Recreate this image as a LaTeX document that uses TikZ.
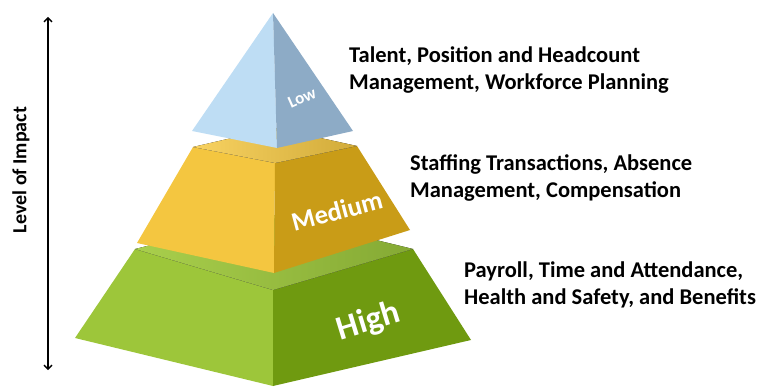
\documentclass[tikz,border=0pt]{standalone}
\usepackage{fontspec}
\setmainfont{Carlito}
\usetikzlibrary{arrows.meta}

\definecolor{lowL}{HTML}{BEDDF4}
\definecolor{lowR}{HTML}{8DABC6}
\definecolor{medL}{HTML}{F4C640}
\definecolor{medR}{HTML}{C99C17}
\definecolor{medT}{HTML}{F8D261}
\definecolor{highL}{HTML}{9DC63A}
\definecolor{highR}{HTML}{6F9A10}
\definecolor{highT}{HTML}{A9CF4C}

\begin{document}
\begin{tikzpicture}[x=1pt,y=-1pt,
    desc/.style={anchor=west, align=left, inner sep=0pt, font=\fontsize{22.5}{27}\selectfont\bfseries},
    lvl/.style={text=white, inner sep=0pt}]
 \useasboundingbox (0,0) rectangle (758,390);

    %Axis
    \coordinate (axtop) at (48,17);
    \coordinate (axbot) at (48,370);
    \draw[{Straight Barb[length=4pt,width=8pt]}-{Straight Barb[length=4pt,width=8pt]}, line width=1.3pt] (axtop) -- (axbot);
    \node[rotate=90, font=\fontsize{20}{24}\selectfont\bfseries] (axlabel) at (21,170) {Level of Impact};

    % High
    \coordinate (hTL) at (135,249);
    \coordinate (hTB) at (273,215);
    \coordinate (hTR) at (413,249);
    \coordinate (hTF) at (273,290);
    \coordinate (hBL) at (75,338);
    \coordinate (hBR) at (471,340);
    \coordinate (hBF) at (273,386);
    \fill[highL] (hTL) -- (hTF) -- (hBF) -- (hBL) -- cycle;
    \fill[highR] (hTF) -- (hTR) -- (hBR) -- (hBF) -- cycle;
    \fill[left color=highT, right color=highR!85!white] (hTL) -- (hTB) -- (hTR) -- (hTF) -- cycle;

    % Medium
    \coordinate (mTL) at (193,147);
    \coordinate (mTB) at (275,128);
    \coordinate (mTR) at (357,146);
    \coordinate (mTF) at (275,163);
    \coordinate (mBL) at (137,243);
    \coordinate (mBR) at (410,230);
    \coordinate (mBF) at (274,273);
    \fill[medL] (mTL) -- (mTF) -- (mBF) -- (mBL) -- cycle;
    \fill[medR] (mTF) -- (mTR) -- (mBR) -- (mBF) -- cycle;
    \fill[left color=medT, right color=medR!85!white] (mTL) -- (mTB) -- (mTR) -- (mTF) -- cycle;

    % Low
    \coordinate (apex) at (273,13);
    \coordinate (lBL) at (192,131);
    \coordinate (lBR) at (353,131);
    \coordinate (lBF) at (277,148);
    \fill[lowL] (apex) -- (lBF) -- (lBL) -- cycle;
    \fill[lowR] (apex) -- (lBR) -- (lBF) -- cycle;

    % labels on the faces
    \node[lvl, rotate=24, font=\fontsize{17}{20}\selectfont\bfseries] (low) at (302,98) {Low};
    \node[lvl, rotate=15, font=\fontsize{26.5}{30}\selectfont\bfseries] (med) at (337,211) {Medium};
    \node[lvl, rotate=17, font=\fontsize{34}{38}\selectfont\bfseries] (high) at (369,322) {High};

    % descriptions
    \node[desc] (lowtxt) at (349,70) {Talent, Position and Headcount\\Management, Workforce Planning};
    \node[desc] (medtxt) at (410,178) {Staffing Transactions, Absence\\Management, Compensation};
    \node[desc] (hightxt) at (464,285) {Payroll, Time and Attendance,\\Health and Safety, and Benefits};
\end{tikzpicture}
\end{document}
